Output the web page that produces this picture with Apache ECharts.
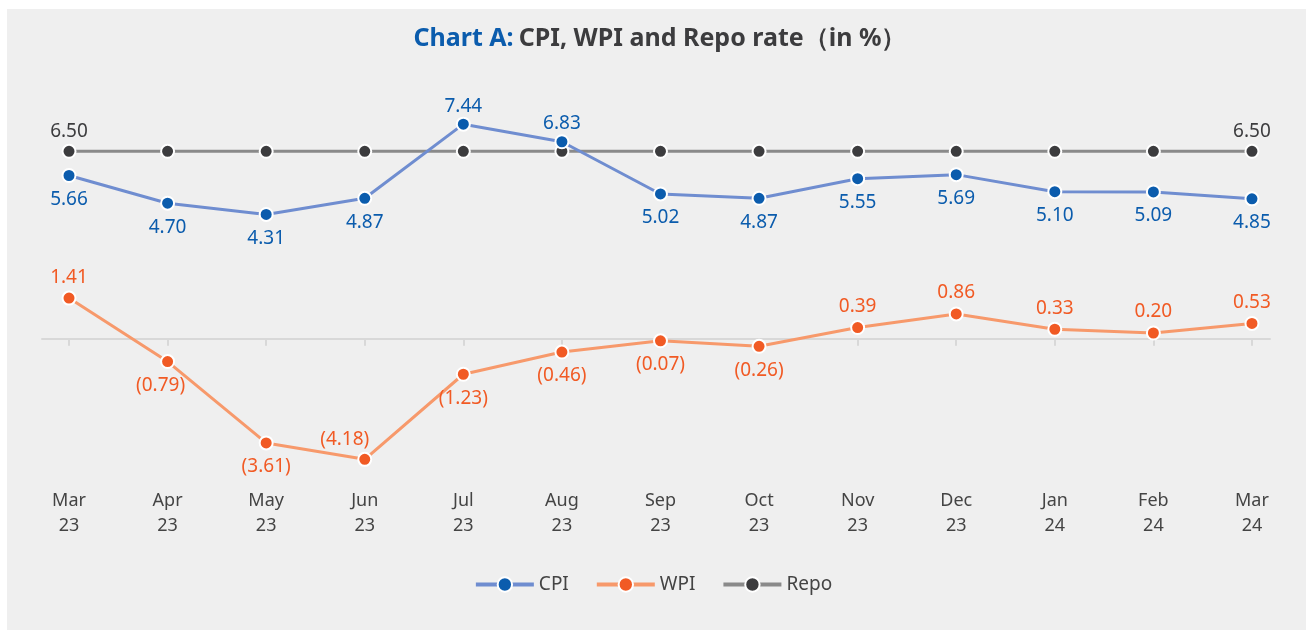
<!DOCTYPE html>
<html>
<head>
<meta charset="utf-8">
<script src="https://cdn.jsdelivr.net/npm/echarts@6/dist/echarts.min.js"></script>
<style>
  html, body { margin: 0; padding: 0; background: #ffffff; }
  #panel { position: absolute; left: 7px; top: 9px; width: 1299px; height: 621px; background: #efefef; }
  #chart { position: absolute; left: 0; top: 0; width: 1306px; height: 630px; }
</style>
</head>
<body>
<div id="panel"></div>
<div id="chart"></div>
<script>
// months on the x axis
var months = ["Mar\n23", "Apr\n23", "May\n23", "Jun\n23", "Jul\n23", "Aug\n23", "Sep\n23",
  "Oct\n23", "Nov\n23", "Dec\n23", "Jan\n24", "Feb\n24", "Mar\n24"];
var cpi = [5.66, 4.70, 4.31, 4.87, 7.44, 6.83, 5.02, 4.87, 5.55, 5.69, 5.10, 5.09, 4.85];
var wpi = [1.41, -0.79, -3.61, -4.18, -1.23, -0.46, -0.07, -0.26, 0.39, 0.86, 0.33, 0.20, 0.53];
var repo = [6.50, 6.50, 6.50, 6.50, 6.50, 6.50, 6.50, 6.50, 6.50, 6.50, 6.50, 6.50, 6.50];

var FONT = "Noto Sans";
var idx = months.map(function (m, i) { return i; });

var chart = echarts.init(document.getElementById("chart"));

// cpi: label above when over repo line
var cpiData = cpi.map(function (v, i) {
  var up = v > repo[i];
  return {
    value: [i, v],
    label: { position: up ? "top" : "bottom", distance: up ? 1 : 7 }
  };
});
// wpi: positive above, negative below; (4.18) sits up-left
var wpiData = wpi.map(function (v, i) {
  var lab = { position: v >= 0 ? "top" : "bottom", distance: v >= 0 ? 4 : 7 };
  if (i === 3) lab = { position: "top", distance: 3, offset: [-20, 0] };
  if (i === 1) lab.offset = [-7, 0];
  return { value: [i, v], label: lab };
});
var repoData = repo.map(function (v, i) {
  return {
    value: [i, v],
    label: { show: i === 0 || i === repo.length - 1 }
  };
});

var option = {
  backgroundColor: "transparent",
  animation: false,
  title: {
    text: "{a|Chart A:} {b|CPI, WPI and Repo rate\uFF08in %\uFF09}",
    left: 655,
    textAlign: "center",
    top: 21,
    textStyle: {
      rich: {
        a: { color: "#0b5cad", fontSize: 25, fontWeight: "bold", fontFamily: FONT },
        b: { color: "#3c3c3e", fontSize: 25, fontWeight: "bold", fontFamily: FONT }
      }
    }
  },
  legend: {
    bottom: 31,
    left: "center",
    itemWidth: 58,
    itemHeight: 18,
    itemGap: 26,
    data: ["CPI", "WPI", "Repo"],
    textStyle: { color: "#444", fontSize: 19, fontFamily: FONT },
    lineStyle: { width: 4 }
  },
  grid: {
    left: 42,
    right: 36,
    top: 108,
    height: 375,
    containLabel: false
  },
  xAxis: [
    {
      type: "value",
      min: -0.274,
      max: 12.183,
      position: "bottom",
      axisLine: {
        show: true,
        onZero: true,
        lineStyle: { color: "#d8d8d8", width: 2 }
      },
      axisTick: {
        show: true,
        customValues: idx,
        length: 7,
        lineStyle: { color: "#d8d8d8", width: 2 }
      },
      axisLabel: { show: false },
      splitLine: { show: false }
    },
    {
      type: "value",
      min: -0.274,
      max: 12.183,
      position: "bottom",
      axisLine: { show: false, onZero: false },
      axisTick: { show: false },
      splitLine: { show: false },
      axisLabel: {
        show: true,
        customValues: idx,
        margin: 5,
        color: "#444",
        fontSize: 18,
        lineHeight: 25,
        fontFamily: FONT,
        formatter: function (v) { return months[Math.round(v)]; }
      }
    }
  ],
  yAxis: {
    type: "value",
    min: -5,
    max: 8,
    show: false,
    splitLine: { show: false }
  },
  series: [
    {
      name: "CPI",
      type: "line",
      z: 4,
      data: cpiData,
      symbol: "circle",
      symbolSize: 13,
      lineStyle: { color: "#6f8dd0", width: 3 },
      itemStyle: { color: "#0b5cad", borderColor: "#ffffff", borderWidth: 2 },
      label: {
        show: true,
        color: "#0b5cad",
        fontSize: 19,
        fontFamily: FONT,
        formatter: function (p) { return p.value[1].toFixed(2); }
      }
    },
    {
      name: "WPI",
      type: "line",
      z: 3,
      data: wpiData,
      symbol: "circle",
      symbolSize: 13,
      lineStyle: { color: "#f7996b", width: 3 },
      itemStyle: { color: "#f15a24", borderColor: "#ffffff", borderWidth: 2 },
      label: {
        show: true,
        color: "#f15a24",
        fontSize: 19,
        fontFamily: FONT,
        formatter: function (p) {
          var v = p.value[1];
          return v < 0 ? "(" + Math.abs(v).toFixed(2) + ")" : v.toFixed(2);
        }
      }
    },
    {
      name: "Repo",
      type: "line",
      z: 2,
      data: repoData,
      symbol: "circle",
      symbolSize: 13,
      lineStyle: { color: "#8a8a8a", width: 3 },
      itemStyle: { color: "#3c3c3e", borderColor: "#ffffff", borderWidth: 2 },
      label: {
        show: true,
        position: "top",
        distance: 3,
        color: "#3c3c3e",
        fontSize: 19,
        fontFamily: FONT,
        formatter: function (p) { return p.value[1].toFixed(2); }
      }
    }
  ]
};

chart.setOption(option);
</script>
</body>
</html>
